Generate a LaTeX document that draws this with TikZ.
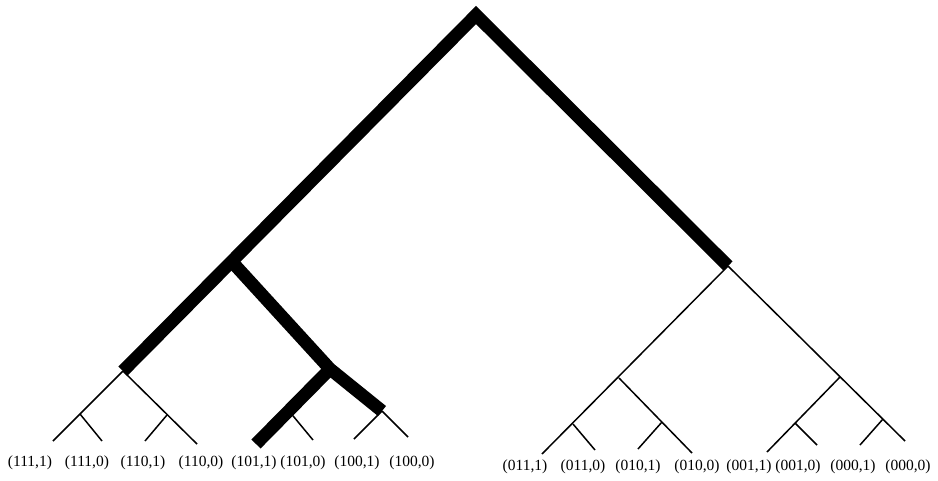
\documentclass[tikz,border=0pt]{standalone}
\usepackage{fontspec}
\setmainfont{Liberation Serif}
\tikzset{
  thickedge/.style={line width=12.8pt, line cap=butt, line join=miter},
  thinedge/.style={line width=1.5pt, line cap=butt},
  leaflabel/.style={font=\fontsize{15.5}{18}\selectfont, inner sep=0pt, anchor=center}
}
\begin{document}
\begin{tikzpicture}[x=1pt,y=-1pt]
\useasboundingbox (0,0) rectangle (938,480);
% internal nodes
\coordinate (R) at (476,15);
\coordinate (A) at (234,264);
\coordinate (B) at (123,371);
\coordinate (C) at (330,369);
\coordinate (D) at (382,411);
\coordinate (E) at (289,411);
\coordinate (B1) at (80,414);
\coordinate (B2) at (167,415);
\coordinate (F) at (728,266);
\coordinate (G) at (619,378);
\coordinate (G1) at (573,424);
\coordinate (G2) at (662,422);
\coordinate (H) at (840,377);
\coordinate (H1) at (795,423);
\coordinate (F2) at (883,419);
% leaves
\coordinate (l1) at (53,441);
\coordinate (l2) at (102,441);
\coordinate (l3) at (145,441);
\coordinate (l4) at (197,444);
\coordinate (l5) at (256,444);
\coordinate (l6) at (313,440);
\coordinate (l7) at (354,439);
\coordinate (l8) at (408,437);
\coordinate (r1) at (542,454);
\coordinate (r2) at (595,450);
\coordinate (r3) at (638,449);
\coordinate (r4) at (692,453);
\coordinate (r5) at (767,452);
\coordinate (r6) at (817,445);
\coordinate (r7) at (860,445);
\coordinate (r8) at (905,441);
% thin edges
\draw[thinedge] (B) -- (l1);
\draw[thinedge] (B1) -- (l2);
\draw[thinedge] (B) -- (l4);
\draw[thinedge] (B2) -- (l3);
\draw[thinedge] (E) -- (l6);
\draw[thinedge] (D) -- (l7);
\draw[thinedge] (D) -- (l8);
\draw[thinedge] (F) -- (r1);
\draw[thinedge] (G1) -- (r2);
\draw[thinedge] (G) -- (r4);
\draw[thinedge] (G2) -- (r3);
\draw[thinedge] (F) -- (r8);
\draw[thinedge] (H) -- (r5);
\draw[thinedge] (H1) -- (r6);
\draw[thinedge] (F2) -- (r7);
% thick edges
\draw[thickedge] (B) -- (R) -- (F);
\draw[thickedge] (A) -- (C) -- (D);
\draw[thickedge] (C) -- (l5);
% labels
\node[leaflabel] (t1) at (30,463) {(111,1)};
\node[leaflabel] (t2) at (87,463) {(111,0)};
\node[leaflabel] (t3) at (143,463) {(110,1)};
\node[leaflabel] (t4) at (201,463) {(110,0)};
\node[leaflabel] (t5) at (254,463) {(101,1)};
\node[leaflabel] (t6) at (303,463) {(101,0)};
\node[leaflabel] (t7) at (357,463) {(100,1)};
\node[leaflabel] (t8) at (412,463) {(100,0)};
\node[leaflabel] (u1) at (525,467) {(011,1)};
\node[leaflabel] (u2) at (583,467) {(011,0)};
\node[leaflabel] (u3) at (638,467) {(010,1)};
\node[leaflabel] (u4) at (697,467) {(010,0)};
\node[leaflabel] (u5) at (749,467) {(001,1)};
\node[leaflabel] (u6) at (798,467) {(001,0)};
\node[leaflabel] (u7) at (853,467) {(000,1)};
\node[leaflabel] (u8) at (908,467) {(000,0)};
\end{tikzpicture}
\end{document}
